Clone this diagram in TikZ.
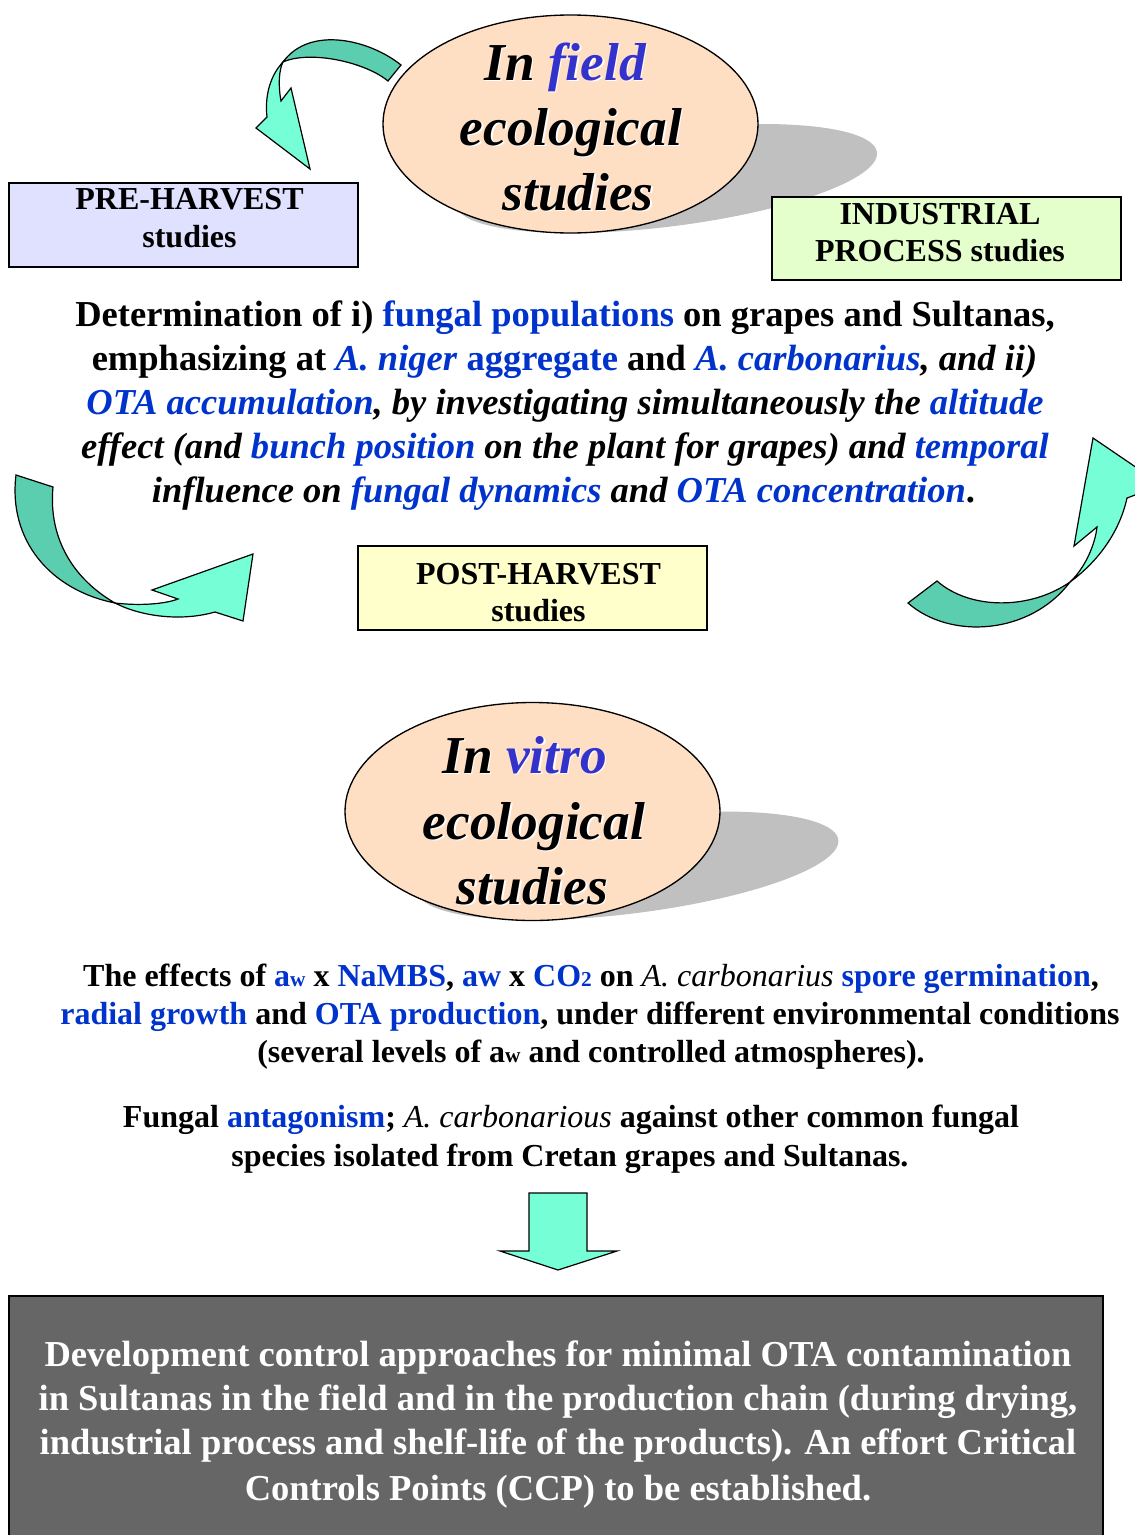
\documentclass[tikz,border=0pt]{standalone}
\usepackage{fontspec}
\setmainfont{Liberation Serif}
\usetikzlibrary{shapes.geometric}
\definecolor{tblue}{RGB}{0,51,204}
\definecolor{tblueb}{RGB}{51,51,204}
\definecolor{peach}{RGB}{255,223,196}
\definecolor{shadowgray}{RGB}{192,192,192}
\definecolor{lav}{RGB}{224,224,255}
\definecolor{lgreen}{RGB}{229,255,204}
\definecolor{lyellow}{RGB}{255,255,204}
\definecolor{aqua}{RGB}{118,255,214}
\definecolor{aquadk}{RGB}{92,206,176}
\definecolor{boxgray}{RGB}{102,102,102}
\newcommand\bl[1]{\textcolor{tblue}{#1}}
\newcommand\smw{{\fontsize{16}{16}\selectfont w}}
\newcommand\smtwo{{\fontsize{16}{16}\selectfont 2}}
\begin{document}
\begin{tikzpicture}[x=0.75pt,y=-0.75pt,
  ell/.style={ellipse, draw=black, line width=1pt, fill=peach, minimum width=281.25pt, minimum height=163.5pt, inner sep=0pt},
  ttl/.style={anchor=base, inner sep=0pt, font=\fontsize{40}{48}\selectfont\bfseries\itshape},
  mt/.style={anchor=base, inner sep=0pt, font=\fontsize{27.4}{33}\selectfont\bfseries},
  tt/.style={anchor=base, inner sep=0pt, font=\fontsize{24}{29}\selectfont\bfseries},
  bx/.style={anchor=base, inner sep=0pt, font=\fontsize{24}{29}\selectfont\bfseries},
  rbox/.style={draw=black, line width=1pt, inner sep=0pt, minimum width=261.75pt, minimum height=63pt},
  arrlt/.style={fill=aqua, draw=black, line width=0.9pt},
  arrdk/.style={fill=aquadk, draw=black, line width=0.9pt}]
\useasboundingbox (0,0) rectangle (1135,1535);
\clip (0,0) rectangle (1135,1535);

% ---------- top ellipse (In field) ----------
\fill[shadowgray] plot[domain=0:360, samples=120, variable=\t]
  ({570.5+187.5*cos(\t)+0.88*(109-109*sin(\t))},{233+0.5*(109*sin(\t)-109)}) -- cycle;
\node[ell] (fieldEll) at (570.5,124) {};
\node[ttl, white] (f1s) at (566.5,81.5) {In field};
\node[ttl] (f1) at (565,80) {In \textcolor{tblueb}{field}};
\node[ttl, white] (f2s) at (572.5,146.5) {ecological};
\node[ttl] (f2) at (571,145) {ecological};
\node[ttl, white] (f3s) at (579.5,211.5) {studies};
\node[ttl] (f3) at (578,210) {studies};

% ---------- bottom ellipse (In vitro) ----------
\fill[shadowgray] plot[domain=0:360, samples=120, variable=\t]
  ({532.5+187.5*cos(\t)+0.88*(108.5-108.5*sin(\t))},{920+0.5*(108.5*sin(\t)-108.5)}) -- cycle;
\node[ell] (vitroEll) at (532.5,811.5) {};
\node[ttl, white] (v1s) at (526,774.5) {In vitro};
\node[ttl] (v1) at (524.5,773) {In \textcolor{tblueb}{vitro}};
\node[ttl, white] (v2s) at (535.5,840.5) {ecological};
\node[ttl] (v2) at (534,839) {ecological};
\node[ttl, white] (v3s) at (534,905.5) {studies};
\node[ttl] (v3) at (532.5,904) {studies};

% ---------- curved arrows ----------
% top-left
\filldraw[arrdk] (401,65) .. controls (370,40) and (310,25) .. (283,62)
  .. controls (310,50) and (365,62) .. (388,81) -- cycle;
\filldraw[arrlt] (283,62) .. controls (268,78) and (265,100) .. (267,117)
  -- (256,128) -- (310,169) -- (291,88) -- (281,101)
  .. controls (278,85) and (279,70) .. (283,62) -- cycle;
% bottom-left
\filldraw[arrdk] (16,475) .. controls (8,540) and (50,590) .. (115,603)
  .. controls (75,580) and (48,540) .. (53,487) -- cycle;
\filldraw[arrlt] (115,603) .. controls (140,606) and (165,604) .. (178,599)
  -- (152,590) -- (253,554) -- (243,621) -- (215,612)
  .. controls (180,622) and (140,616) .. (115,603) -- cycle;
% bottom-right
\filldraw[arrdk] (908,603) .. controls (950,640) and (1030,635) .. (1070,582)
  .. controls (1030,610) and (970,610) .. (937,581) -- cycle;
\filldraw[arrlt] (1070,582) .. controls (1085,568) and (1095,545) .. (1097,527)
  -- (1074,546) -- (1093,438) -- (1162,485) -- (1127,498)
  .. controls (1120,530) and (1100,560) .. (1070,582) -- cycle;

% ---------- boxes ----------
\node[rbox, fill=lav] (preBox) at (183.5,225) {};
\node[bx] (pre1) at (189.5,209) {PRE-HARVEST};
\node[bx] (pre2) at (189.5,247) {studies};

\node[rbox, fill=lgreen, minimum height=62.25pt] (indBox) at (946.5,238.5) {};
\node[bx] (ind1) at (940,224) {INDUSTRIAL};
\node[bx] (ind2) at (940,261) {PROCESS studies};

\node[rbox, fill=lyellow] (postBox) at (532.5,588) {};
\node[bx] (post1) at (538.5,584) {POST-HARVEST};
\node[bx] (post2) at (538.5,621) {studies};

% ---------- main text ----------
\node[mt] (l1) at (565,326) {Determination of i) \bl{fungal populations} on grapes and Sultanas,};
\node[mt] (l2) at (564.5,370) {emphasizing at \bl{\textit{A. niger} aggregate} and \bl{\textit{A. carbonarius}}\textit{, and ii)}};
\node[mt] (l3) at (565,414) {\itshape \bl{OTA accumulation}, by investigating simultaneously the \bl{altitude}};
\node[mt] (l4) at (565,458) {\itshape effect (and \bl{bunch position} on the plant for grapes) and \bl{temporal}};
\node[mt] (l5) at (563.5,502) {\textit{influence on \bl{fungal dynamics} and \bl{OTA concentration}}.};

% ---------- in vitro text ----------
\node[tt] (m1) at (591,986) {The effects of \bl{a\smw} x \bl{NaMBS}, \bl{aw} x \bl{CO\smtwo} on {\mdseries\itshape A. carbonarius} \bl{spore germination},};
\node[tt] (m2) at (590,1024) {\bl{radial growth} and \bl{OTA production}, under different environmental conditions};
\node[tt] (m3) at (591,1062) {(several levels of a\smw{} and controlled atmospheres).};
\node[tt] (m4) at (571,1127) {Fungal \bl{antagonism}; {\mdseries\itshape A. carbonarious} against other common fungal};
\node[tt] (m5) at (570,1166) {species isolated from Cretan grapes and Sultanas.};

% ---------- down arrow ----------
\filldraw[arrlt] (529,1193) -- (587,1193) -- (587,1251) -- (617,1251) -- (558,1270)
  -- (500,1251) -- (529,1251) -- cycle;

% ---------- bottom grey box ----------
\node[draw=black, line width=1pt, fill=boxgray, minimum width=820.5pt, minimum height=186.75pt, inner sep=0pt] (ccpBox) at (556,1420.5) {};
\node[mt, white] (b1) at (558,1366) {Development control approaches for minimal OTA contamination};
\node[mt, white] (b2) at (558,1410) {in Sultanas in the field and in the production chain (during drying,};
\node[mt, white] (b3) at (558,1454) {industrial process and shelf-life of the products). An effort Critical};
\node[mt, white] (b4) at (558,1500) {Controls Points (CCP) to be established.};
\end{tikzpicture}
\end{document}
